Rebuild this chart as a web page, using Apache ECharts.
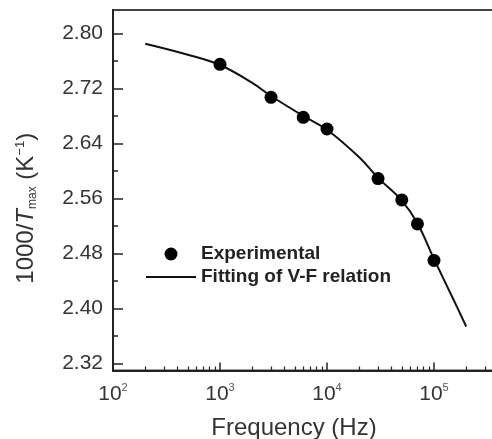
<!DOCTYPE html>
<html>
<head>
<meta charset="utf-8">
<script src="https://cdn.jsdelivr.net/npm/echarts@6/dist/echarts.min.js"></script>
<style>
  html, body { margin: 0; padding: 0; background: #fff; }
  #main { width: 492px; height: 439px; }
</style>
</head>
<body>
<div id="main"></div>
<script>
  // experimental points
  var freqExp = [1e3, 3e3, 6e3, 1e4, 3e4, 5e4, 7e4, 1e5];
  var tExp = [2.755, 2.707, 2.678, 2.661, 2.589, 2.558, 2.523, 2.470];
  // V-F fitting curve
  var freqFit = [200, 500, 1e3, 2e3, 3e3, 6e3, 1e4, 2e4, 3e4, 5e4, 7e4, 1e5, 1.5e5, 2e5];
  var tFit = [2.785, 2.769, 2.754, 2.728, 2.709, 2.680, 2.660, 2.620, 2.590, 2.557, 2.524, 2.472, 2.415, 2.374];
  // ticks
  var xMajor = [1e2, 1e3, 1e4, 1e5, 1e6];
  var xMinor = [200, 300, 400, 500, 600, 700, 800, 900,
                2e3, 3e3, 4e3, 5e3, 6e3, 7e3, 8e3, 9e3,
                2e4, 3e4, 4e4, 5e4, 6e4, 7e4, 8e4, 9e4,
                2e5, 3e5, 4e5];
  var yMajor = [2.32, 2.40, 2.48, 2.56, 2.64, 2.72, 2.80];
  var yMinor = [2.36, 2.44, 2.52, 2.60, 2.68, 2.76];

  var chart = echarts.init(document.getElementById('main'));
  var axisCol = '#222';
  var txt = { fontFamily: 'Liberation Sans, Arial, sans-serif', color: '#333' };

  chart.setOption({
    animation: false,
    grid: {
      left: 113, top: 10, width: 428, height: 360.5,
      outerBoundsMode: 'none',
      show: true, borderColor: '#444', borderWidth: 2
    },
    legend: {
      orient: 'vertical', left: 140, top: 239,
      itemWidth: 50, itemHeight: 13, itemGap: 3,
      textStyle: { fontFamily: txt.fontFamily, fontWeight: 'bold', fontSize: 19, color: '#222', lineHeight: 20 },
      data: [
        { name: 'Experimental', icon: 'circle', itemStyle: { opacity: 1, color: '#000' } },
        { name: 'Fitting of V-F relation', itemStyle: { opacity: 0 } }
      ]
    },
    xAxis: [{
      type: 'log', logBase: 10, min: 100, max: 1e6,
      name: 'Frequency (Hz)', nameLocation: 'middle', nameGap: 46,
      nameTextStyle: { fontFamily: txt.fontFamily, fontSize: 24, color: '#333', padding: [0, 66, 0, 0] },
      axisLine: { lineStyle: { color: axisCol, width: 2 } },
      axisTick: { inside: true, length: 8, lineStyle: { color: axisCol, width: 1.5 }, customValues: xMajor },
      axisLabel: {
        margin: 12, customValues: xMajor,
        fontFamily: txt.fontFamily, fontSize: 21, color: '#333',
        formatter: function (v) {
          return '10{s|' + Math.round(Math.log10(v)) + '}';
        },
        rich: { s: { fontFamily: txt.fontFamily, fontSize: 11, color: '#555', padding: [0, 0, 12, 0] } }
      },
      splitLine: { show: false }
    }, {
      type: 'log', logBase: 10, min: 100, max: 1e6, position: 'bottom', offset: 0,
      axisLine: { show: false },
      axisTick: { inside: true, length: 4, lineStyle: { color: axisCol, width: 1.2 }, customValues: xMinor },
      axisLabel: { show: false },
      splitLine: { show: false }
    }],
    yAxis: [{
      type: 'value', min: 2.31, max: 2.834,
      name: '{n|1000/}{i|T}{sub|max}{n| (K}{sup|\u22121}{n|)}',
      nameLocation: 'middle', nameGap: 74, nameRotate: 90,
      nameTextStyle: {
        padding: [0, 36, 0, 0],
        rich: {
          n: { fontFamily: txt.fontFamily, fontSize: 24, color: '#333' },
          i: { fontFamily: txt.fontFamily, fontSize: 24, fontStyle: 'italic', color: '#333' },
          sub: { fontFamily: txt.fontFamily, fontSize: 12, color: '#333', padding: [12, 0, 0, 0] },
          sup: { fontFamily: txt.fontFamily, fontSize: 13, color: '#333', padding: [0, 0, 12, 0] }
        }
      },
      axisLine: { show: true, lineStyle: { color: axisCol, width: 2 } },
      axisTick: { show: true, inside: true, length: 10, lineStyle: { color: axisCol, width: 1.5 }, customValues: yMajor },
      axisLabel: {
        margin: 10, customValues: yMajor,
        fontFamily: txt.fontFamily, fontSize: 21, color: '#333',
        formatter: function (v) { return v.toFixed(2); }
      },
      splitLine: { show: false }
    }, {
      type: 'value', min: 2.31, max: 2.834, position: 'left', offset: 0,
      axisLine: { show: false },
      axisTick: { show: true, inside: true, length: 5, lineStyle: { color: axisCol, width: 1.5 }, customValues: yMinor },
      axisLabel: { show: false },
      splitLine: { show: false }
    }],
    series: [{
      name: 'Fitting of V-F relation',
      type: 'line', smooth: 0.4, symbol: 'none',
      data: freqFit.map(function (f, i) { return [f, tFit[i]]; }),
      lineStyle: { color: '#111', width: 2 },
      itemStyle: { color: '#111' },
      z: 2
    }, {
      name: 'Experimental',
      type: 'scatter', symbol: 'circle', symbolSize: 13,
      data: freqExp.map(function (f, i) { return [f, tExp[i]]; }),
      itemStyle: { color: '#000', opacity: 1 },
      z: 3
    }]
  });
</script>
</body>
</html>
